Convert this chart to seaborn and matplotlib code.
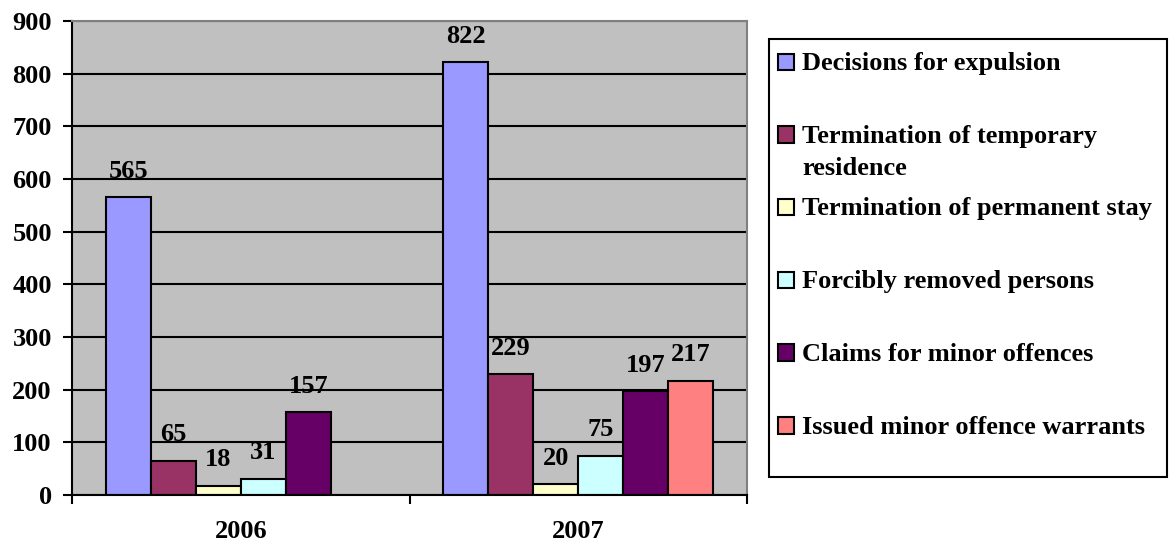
import numpy as np
import pandas as pd
import matplotlib
matplotlib.use("Agg")
import matplotlib.pyplot as plt
from matplotlib.patches import Rectangle
import seaborn as sns

# Yearly counts of measures taken against foreigners
years = ["2006", "2007"]
series = [
    "Decisions for expulsion",
    "Termination of temporary\nresidence",
    "Termination of permanent stay",
    "Forcibly removed persons",
    "Claims for minor offences",
    "Issued minor offence warrants",
]
values_2006 = [565, 65, 18, 31, 157, np.nan]
values_2007 = [822, 229, 20, 75, 197, 217]
colors = ["#9999FF", "#993366", "#FFFFCC", "#CCFFFF", "#660066", "#FF8080"]
y_ticks = list(range(0, 901, 100))

rows = []
for year, vals in zip(years, [values_2006, values_2007]):
    for name, v in zip(series, vals):
        rows.append({"year": year, "series": name, "value": v})
df = pd.DataFrame(rows).dropna()

sns.set_theme(style="white")
plt.rcParams["font.family"] = ["Liberation Serif", "DejaVu Serif"]
plt.rcParams["font.weight"] = "bold"
plt.rcParams["text.color"] = "black"
plt.rcParams["xtick.color"] = "black"
plt.rcParams["ytick.color"] = "black"
plt.rcParams["axes.labelcolor"] = "black"
FS = 19

W, H = 1169, 547
fig = plt.figure(figsize=(W / 100, H / 100), dpi=100)
ax = fig.add_axes([72 / W, 1 - 495 / H, (747 - 72) / W, (495 - 21) / H])
ax.set_facecolor("#C0C0C0")

sns.barplot(
    data=df, x="year", y="value", hue="series",
    order=years, hue_order=series, palette=colors, saturation=1,
    edgecolor="black", linewidth=1.5, errorbar=None,
    width=0.8, legend=False, ax=ax,
)

# value labels above each bar
for cont in ax.containers:
    for bar in cont:
        h = bar.get_height()
        if np.isnan(h):
            continue
        ax.annotate(
            f"{int(round(h))}",
            (bar.get_x() + bar.get_width() / 2, h),
            xytext=(0, 14), textcoords="offset points",
            ha="center", va="baseline",
            fontsize=FS, fontweight="bold", color="black",
        )

ax.set_xlim(-0.5, 1.5)
ax.set_ylim(0, 900)
ax.set_xlabel("")
ax.set_ylabel("")

ax.set_yticks(y_ticks)
ax.set_yticklabels([str(t) for t in y_ticks])
ax.tick_params(axis="y", length=6.5, width=1.5, pad=8, labelsize=FS,
               direction="out", color="black", labelcolor="black", left=True)
ax.set_xticks([0, 1])
ax.set_xticklabels(years)
ax.set_xticks([-0.5, 0.5, 1.5], minor=True)
ax.tick_params(axis="x", which="major", length=0, pad=18, labelsize=FS,
               labelcolor="black")
ax.tick_params(axis="x", which="minor", length=6.5, width=1.5,
               direction="out", color="black", bottom=True)
for lab in ax.get_xticklabels() + ax.get_yticklabels():
    lab.set_fontweight("bold")

ax.yaxis.grid(True, color="black", linewidth=1.5)
ax.xaxis.grid(False)
ax.set_axisbelow(True)

for side in ["left", "bottom"]:
    ax.spines[side].set_color("black")
    ax.spines[side].set_linewidth(1.5)
for side in ["top", "right"]:
    ax.spines[side].set_color("#808080")
    ax.spines[side].set_linewidth(1.5)
for sp in ax.spines.values():
    sp.set_visible(True)
    sp.set_zorder(3)

# legend box on the right
fig.patches.append(Rectangle(
    (769 / W, 1 - 477 / H), (1167 - 769) / W, (477 - 39) / H,
    transform=fig.transFigure, facecolor="white", edgecolor="black",
    linewidth=1.5, zorder=1,
))
baselines = [70 + 72.7 * k for k in range(len(series))]
for name, col, b in zip(series, colors, baselines):
    fig.patches.append(Rectangle(
        (778 / W, 1 - b / H), 16 / W, 16.5 / H,
        transform=fig.transFigure, facecolor=col, edgecolor="black",
        linewidth=1.5, zorder=2,
    ))
    for i, line in enumerate(name.split("\n")):
        fig.text(802 / W, 1 - (b + 32 * i) / H, line, ha="left",
                 va="baseline", fontsize=FS, fontweight="bold",
                 color="black", zorder=3)

fig.savefig("out.png", dpi=100)
